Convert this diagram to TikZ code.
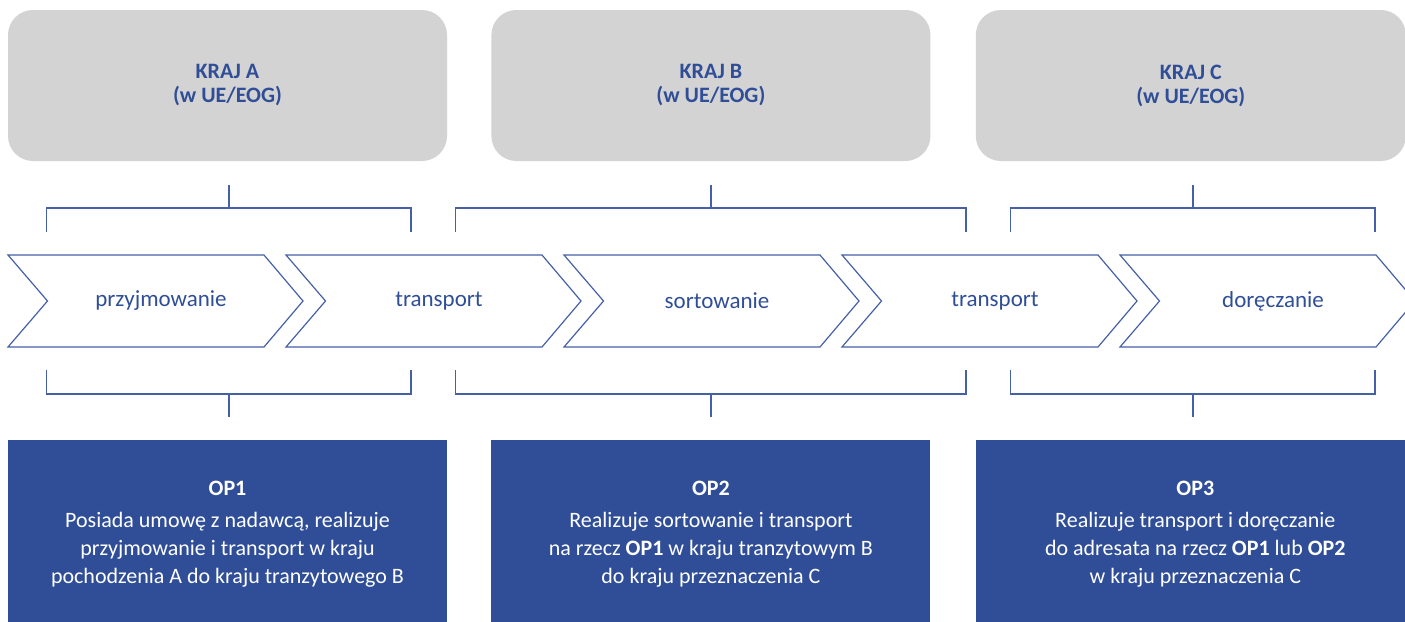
\documentclass[tikz,border=0pt]{standalone}
\usepackage{fontspec}
\setmainfont{Carlito}
\usetikzlibrary{positioning}
\definecolor{opblue}{HTML}{2F4E97}
\definecolor{lineblue}{HTML}{4660A6}
\definecolor{krajgrey}{HTML}{D3D3D3}

\begin{document}
\begin{tikzpicture}[x=1pt, y=-1pt,
  kraj/.style={fill=krajgrey, rounded corners=25pt, minimum width=439pt, minimum height=151pt,
    align=center, text=opblue, font=\bfseries\fontsize{22}{24}\selectfont},
  op/.style={fill=opblue, minimum width=439pt, minimum height=188pt, inner sep=0pt,
    align=center, text=white, font=\fontsize{22}{28}\selectfont},
  etap/.style={draw=lineblue, line width=1.2pt},
  etaptext/.style={text=opblue, font=\fontsize{23}{26}\selectfont},
  bracket/.style={draw=lineblue, line width=1.4pt}]
  \clip (0,0) rectangle (1405,621);

  \node [kraj] (krajA) at (227.5,85.5) {KRAJ A\\(w UE/EOG)};
  \node [kraj, right=44pt of krajA] (krajB) {KRAJ B\\(w UE/EOG)};
  \node [kraj, right=45pt of krajB, minimum width=430pt] (krajC) {KRAJ C\\(w UE/EOG)};

  \node [op, below=279pt of krajA] (opA) {\textbf{OP1}\\[4pt]Posiada umowę z nadawcą, realizuje\\przyjmowanie i transport w kraju\\pochodzenia A do kraju tranzytowego B};
  \node [op, below=279pt of krajB] (opB) {\textbf{OP2}\\[4pt]Realizuje sortowanie i transport\\na rzecz \textbf{OP1} w kraju tranzytowym B\\do kraju przeznaczenia C};
  \node [op, anchor=north west] (opC) at (krajC.south west |- opB.north) {\textbf{OP3}\\[4pt]Realizuje transport i doręczanie\\do adresata na rzecz \textbf{OP1} lub \textbf{OP2}\\w kraju przeznaczenia C};

  % chevrons
  \foreach \lbl [count=\i from 0] in {przyjmowanie, transport, sortowanie, transport, doręczanie} {
    \pgfmathsetmacro{\xl}{8+278*\i}
    \draw [etap] (\xl,255) -- ++(256,0) -- ++(39,46) -- ++(-39,46) -- ++(-256,0) -- ++(39.5,-46) -- cycle;
    \node [etaptext] (etap\i) at (\xl+153,301) {\lbl};
  }

  % brackets
  \foreach \xl/\xr in {46.7/411, 455.7/966, 1010.6/1375} {
    \pgfmathsetmacro{\xm}{(\xl+\xr)/2}
    \draw [bracket] (\xm,185) -- (\xm,208);
    \draw [bracket] (\xl,232) |- (\xr,208) -- (\xr,232);
    \draw [bracket] (\xl,370) |- (\xr,394) -- (\xr,370);
    \draw [bracket] (\xm,394) -- (\xm,417);
  }
\end{tikzpicture}
\end{document}
